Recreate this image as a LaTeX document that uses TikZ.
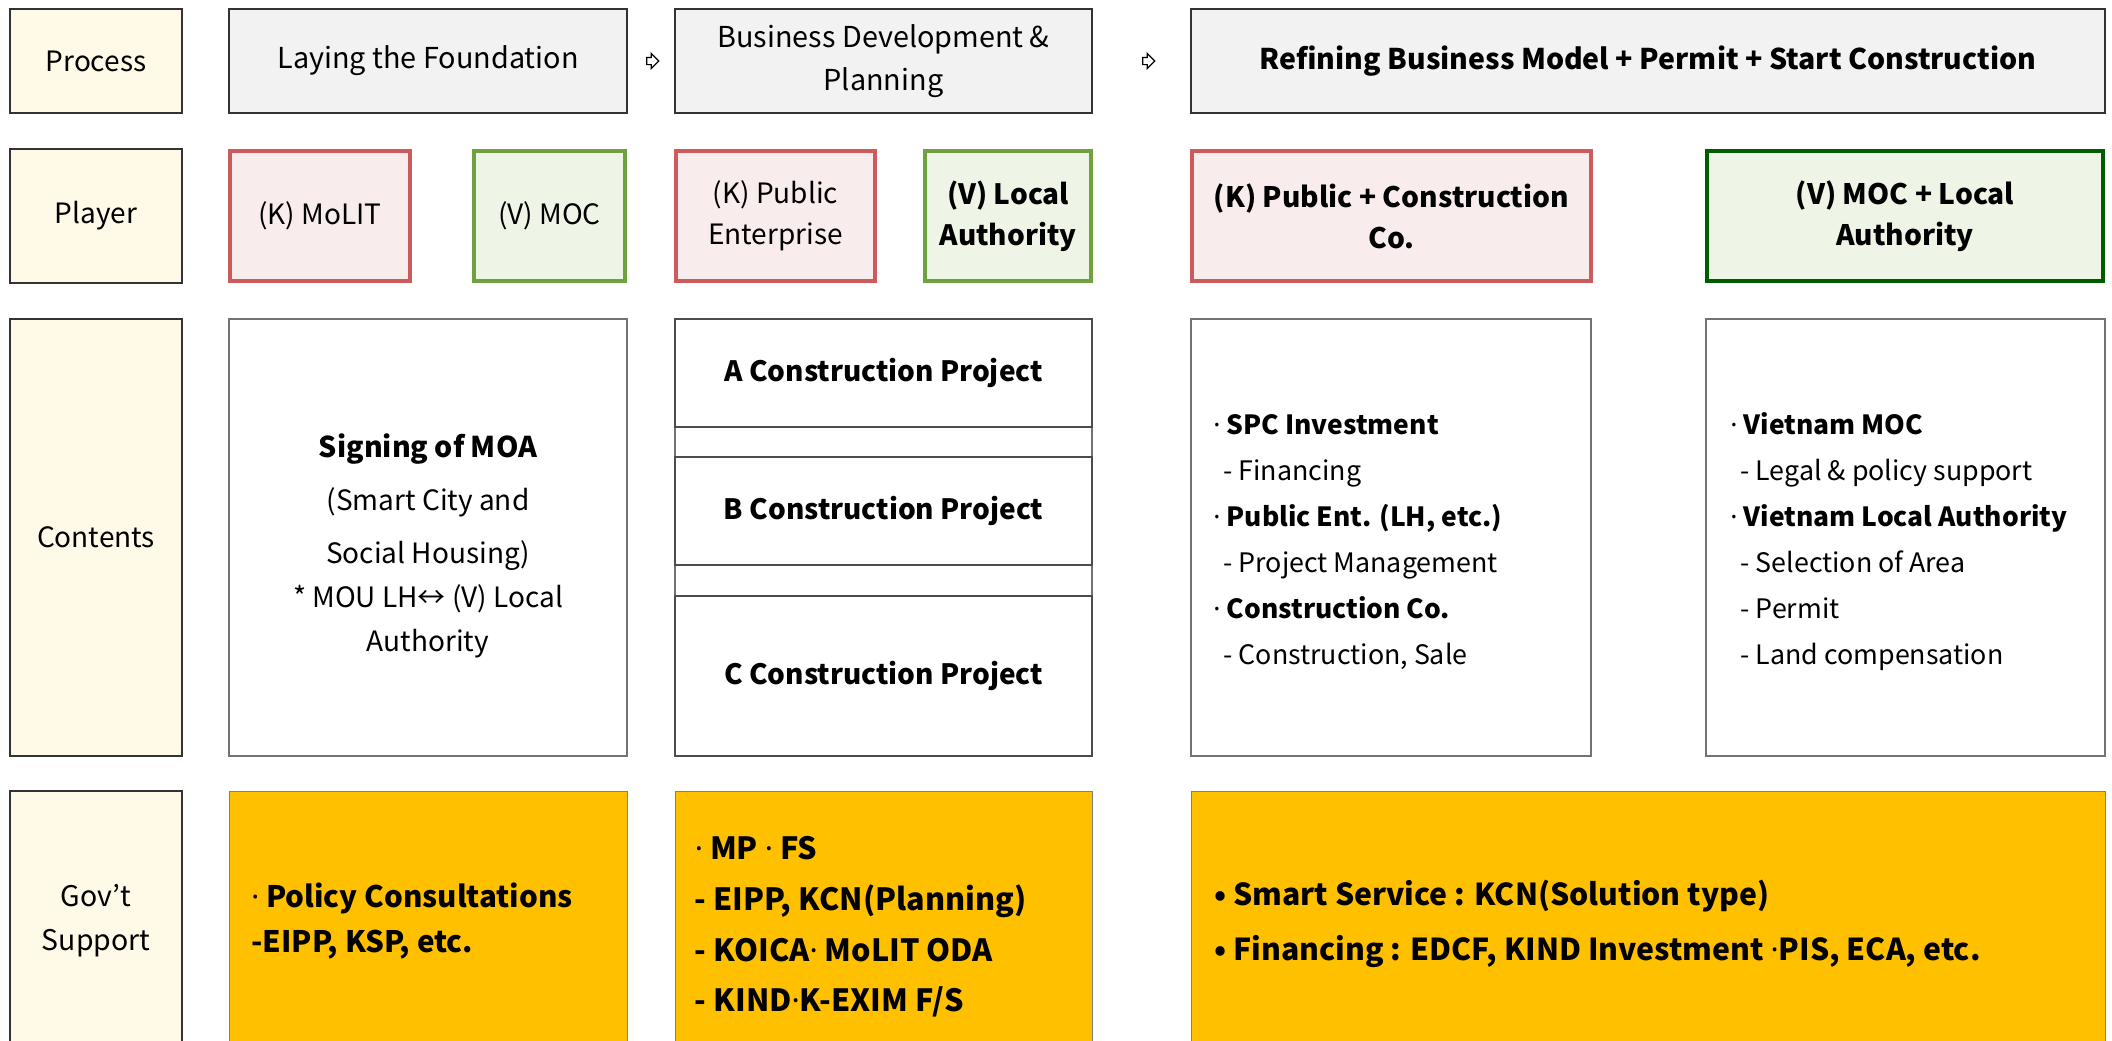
\documentclass[tikz,border=0pt]{standalone}
\usepackage{fontspec}
\setmainfont{Noto Sans CJK KR}
\newfontfamily\dotfont{Noto Sans}
\newcommand{\md}{{\dotfont ·}}
\usetikzlibrary{shapes.arrows}
\definecolor{lblfill}{HTML}{FFF9E7}
\definecolor{procfill}{HTML}{F2F2F2}
\definecolor{redln}{HTML}{CD5B5B}
\definecolor{redfill}{HTML}{F9ECEC}
\definecolor{grnln}{HTML}{70A13F}
\definecolor{grnfill}{HTML}{EEF4E6}
\definecolor{dkgrn}{HTML}{005C00}
\definecolor{gold}{HTML}{FFC000}
\tikzset{
  base/.style={rectangle, inner sep=0pt, align=center, text=black, font=\fontsize{14}{20.5}\selectfont},
  lbl/.style={base, draw=black!80, line width=0.75pt, fill=lblfill, minimum width=86pt},
  proc/.style={base, draw=black!80, line width=0.75pt, fill=procfill, minimum height=52pt, font=\fontsize{14.4}{21.5}\selectfont},
  kbox/.style={base, draw=redln, line width=2pt, fill=redfill, minimum height=65pt},
  vbox/.style={base, draw=grnln, line width=2pt, fill=grnfill, minimum height=65pt},
  vdbox/.style={vbox, draw=dkgrn},
  cbox/.style={base, draw=black!55, line width=0.75pt, fill=white, minimum height=218.5pt},
  cell/.style={base, draw=black!70, line width=0.6pt, minimum width=208.5pt, font=\fontsize{14}{21}\selectfont\bfseries},
  gbox/.style={base, draw=black!50, line width=0.5pt, fill=gold, minimum height=129.5pt},
  ltext/.style={inner sep=0pt, align=left, anchor=west, text=black},
  ctext/.style={inner sep=0pt, align=center, text=black},
  harrow/.style={single arrow, draw=black, line width=0.6pt, fill=white, inner sep=1.5pt, minimum height=6pt, single arrow head extend=2pt}
}
\newcommand{\subln}[1]{{\fontsize{13.4}{23}\selectfont\hspace{5pt}#1}}
\newcommand{\hdln}[1]{\md\ {\fontsize{13.2}{23}\selectfont\bfseries #1}}
\begin{document}
\begin{tikzpicture}[x=0.5pt,y=-0.5pt]
\clip (0,0) rectangle (2112,1040);
\fill[white] (0,0) rectangle (2112,1040);
% row labels
\node[lbl, minimum height=52pt] (lproc) at (96,61) {Process};
\node[lbl, minimum height=67pt] (lplay) at (96,216) {Player};
\node[lbl, minimum height=218.5pt] (lcont) at (96,537.5) {Contents};
\node[lbl, minimum height=129.5pt, font=\fontsize{14.2}{22}\selectfont] (lgov) at (96,920.5) {Gov’t\\Support};
% process
\node[proc, minimum width=199pt] (lay) at (428,61) {Laying the Foundation};
\node[proc, minimum width=208.5pt] (bus) at (883.5,61) {Business Development \&\\Planning};
\node[proc, minimum width=457pt, font=\fontsize{14.25}{21}\selectfont\bfseries] (ref) at (1648,61) {Refining Business Model + Permit + Start Construction};
\node[harrow] (ar1) at (651,61) {};
\node[harrow] (ar2) at (1147,61) {};
% players
\node[kbox, minimum width=90pt] (molit) at (320,216) {(K) MoLIT};
\node[vbox, minimum width=75.5pt] (moc) at (549.5,216) {(V) MOC};
\node[kbox, minimum width=99.5pt] (pubent) at (775.5,216) {(K) Public\\Enterprise};
\node[vbox, minimum width=83pt, font=\fontsize{14}{20.5}\selectfont\bfseries] (locauth) at (1008,216) {(V) Local\\Authority};
\node[kbox, minimum width=199.5pt, font=\fontsize{14.1}{20.5}\selectfont\bfseries] (kpc) at (1391.5,216) {(K) Public + Construction\\Co.};
\node[vdbox, minimum width=198pt, font=\fontsize{14.1}{20.5}\selectfont\bfseries] (vml) at (1905,216) {(V) MOC + Local\\Authority};
% contents
\node[cbox, minimum width=199pt] (sign) at (428,537.5) {};
\node[ctext, font=\fontsize{14}{26.5}\selectfont] (signt) at (428,546)
  {{\fontsize{14.3}{26.5}\selectfont\bfseries Signing of MOA}\\(Smart City and\\Social Housing)\\[-4.5pt]* MOU LH↔ (V) Local\\[-4.5pt]Authority};
\node[cbox, minimum width=208.5pt] (proj) at (883.5,537.5) {};
\node[cell, minimum height=54pt] (pa) at (883.5,373) {A Construction Project};
\node[cell, minimum height=54pt] (pb) at (883.5,511) {B Construction Project};
\node[cell, minimum height=80pt] (pc) at (883.5,676) {C Construction Project};
\node[cbox, minimum width=200pt] (spc) at (1391,537.5) {};
\node[cbox, minimum width=199.5pt] (viet) at (1905.5,537.5) {};
\node[ltext, font=\fontsize{13.4}{23}\selectfont] (spct) at (1213,542)
  {\hdln{SPC Investment}\\\subln{- Financing}\\\hdln{Public Ent. (LH, etc.)}\\\subln{- Project Management}\\\hdln{Construction Co.}\\\subln{- Construction, Sale}};
\node[ltext, font=\fontsize{13.4}{23}\selectfont] (viett) at (1730,542)
  {\hdln{Vietnam MOC}\\\subln{- Legal \& policy support}\\\hdln{Vietnam Local Authority}\\\subln{- Selection of Area}\\\subln{- Permit}\\\subln{- Land compensation}};
% gov support
\node[gbox, minimum width=199pt] (pol) at (428,920.5) {};
\node[gbox, minimum width=208.5pt] (mp) at (883.5,920.5) {};
\node[gbox, minimum width=457pt] (fin) at (1648,920.5) {};
\node[ltext, font=\fontsize{14.8}{22.5}\selectfont\bfseries] (polt) at (251,921.5)
  {\md\ Policy Consultations\\-EIPP, KSP, etc.};
\node[ltext, font=\fontsize{15.3}{25.3}\selectfont\bfseries] (mpt) at (694.5,927)
  {\md\ MP \md\ FS\\- EIPP, KCN(Planning)\\- KOICA\md\ MoLIT ODA\\- KIND\md K-EXIM F/S};
\node[ltext, font=\fontsize{15.1}{27.5}\selectfont\bfseries] (fint) at (1214,923.5)
  {• Smart Service : KCN(Solution type)\\• Financing : EDCF, KIND Investment \md PIS, ECA, etc.};
\end{tikzpicture}
\end{document}
